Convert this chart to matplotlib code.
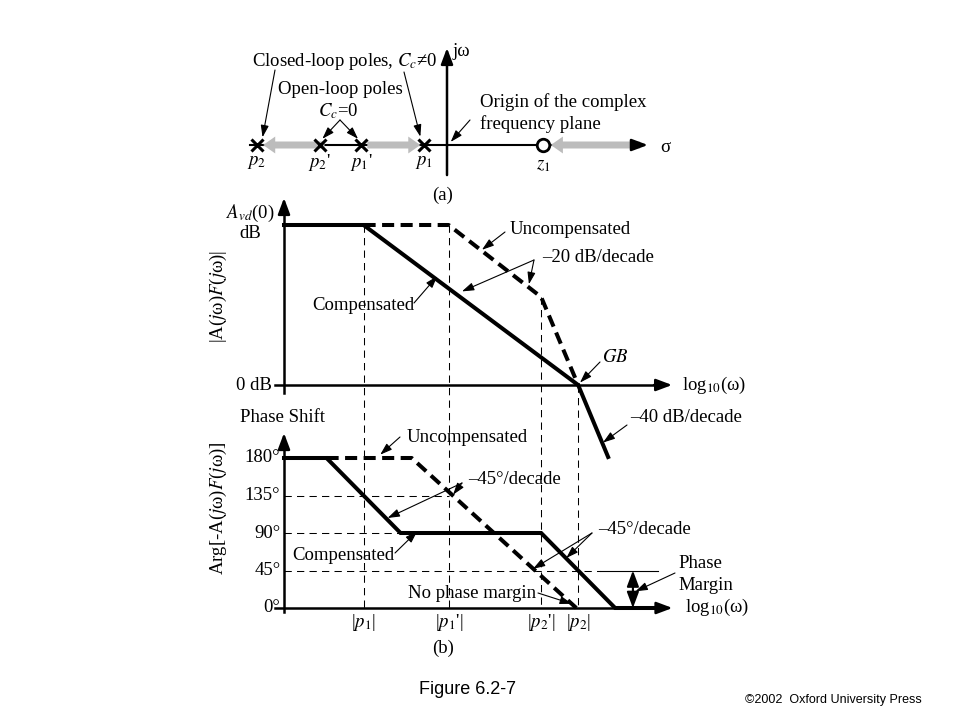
import numpy as np
import matplotlib
matplotlib.use("Agg")
import matplotlib.pyplot as plt
import matplotlib.transforms as mtransforms

plt.rcParams['font.family'] = ['Liberation Serif', 'DejaVu Serif']
plt.rcParams['mathtext.fontset'] = 'stix'
FS = 13.5

# (a) pole / zero locations on the sigma axis (arbitrary units)
pole_labels = ["$p_2$", "$p_2$'", "$p_1$'", "$p_1$"]
pole_sigma = [-6.13, -4.10, -2.77, -0.74]
zero_sigma = 3.10

# (b) breakpoints on the log10(w) axis (decades from the origin)
brk_labels = ["|$p_1$|", "|$p_1$'|", "|$p_2$'|", "|$p_2$|"]
brk_x = [2.15, 4.45, 6.95, 7.95]

# magnitude, dB (A_vd(0) = 100)
mag_comp_x = [0, 2.15, 7.95, 8.76]
mag_comp_y = [100, 100, 0, -45]
mag_unc_x = [2.15, 4.45, 6.95, 7.95]
mag_unc_y = [100, 100, 55, 0]

# phase shift, degrees
ph_comp_x = [0, 1.15, 3.15, 6.95, 8.95, 10.1]
ph_comp_y = [180, 180, 90, 90, 0, 0]
ph_unc_x = [1.15, 3.45, 7.9]
ph_unc_y = [180, 180, 0]
ph_ticks = [0, 45, 90, 135, 180]

W, H = 960, 720
fig = plt.figure(figsize=(9.6, 7.2), dpi=100)
fig.patch.set_facecolor('white')
PX = mtransforms.Affine2D().scale(1 / W, -1 / H).translate(0, 1) + fig.transFigure


def panel(left, top, right, bottom, x0, xu, y0, yu):
    ax = fig.add_axes([left / W, 1 - bottom / H, (right - left) / W, (bottom - top) / H])
    ax.set_xlim((left - x0) / xu, (right - x0) / xu)
    ax.set_ylim((y0 - bottom) / yu, (y0 - top) / yu)
    ax.axis('off')
    return ax


ax_a = panel(230, 30, 720, 210, 447, 31, 145, 31)
ax_m = panel(200, 190, 780, 470, 284, 37, 385, 1.6)
ax_p = panel(200, 405, 780, 640, 284, 37, 608, 150 / 180)

AX_ARROW = dict(arrowstyle='-|>,head_length=0.8,head_width=0.3', mutation_scale=12,
                lw=1.8, color='k', shrinkA=0, shrinkB=0)
PTR = dict(arrowstyle='-|>,head_length=0.6,head_width=0.2', mutation_scale=12,
           lw=0.8, color='k', shrinkA=0, shrinkB=0)
GRAY = dict(arrowstyle='simple,head_length=0.62,head_width=0.87,tail_width=0.36',
            mutation_scale=14, fc='#bcbcbc', ec='none', shrinkA=0, shrinkB=0)


def arrow(ax, start, end, props=AX_ARROW, start_px=False, z=3):
    ax.annotate('', xy=end, xytext=start, xycoords='data',
                textcoords=PX if start_px else 'data',
                arrowprops=props, annotation_clip=False, zorder=z)


def label(s, x, y, ha='left', va='center', **kw):
    fig.text(x, y, s, transform=PX, ha=ha, va=va, fontsize=kw.pop('fontsize', FS), **kw)


# ---------------- (a) complex plane ----------------
ax_a.plot([-6.35, 6.3], [0, 0], color='k', lw=1.5, zorder=1)
arrow(ax_a, (6.0, 0), (6.48, 0))
arrow(ax_a, (0, -0.97), (0, 3.13))
arrow(ax_a, (pole_sigma[1] + 0.15, 0), (pole_sigma[0] + 0.2, 0), GRAY, z=2)
arrow(ax_a, (pole_sigma[2] + 0.2, 0), (pole_sigma[3] - 0.12, 0), GRAY, z=2)
arrow(ax_a, (6.23, 0), (zero_sigma + 0.25, 0), GRAY, z=2)
ax_a.plot(pole_sigma, np.zeros(len(pole_sigma)), 'x', ms=9, mew=2.2, color='k', zorder=4)
ax_a.plot([zero_sigma], [0], 'o', ms=9, mfc='white', mec='k', mew=2, zorder=4)
for s, name in zip(pole_sigma, pole_labels):
    ax_a.text(s, -0.58, name, ha='center', va='center', fontsize=FS)
ax_a.text(zero_sigma, -0.65, "$z_1$", ha='center', va='center', fontsize=FS)

label("Closed-loop poles, $C_c$≠0", 252, 62)
label("Open-loop poles", 278, 89)
label("$C_c$=0", 338, 111, ha='center')
label("jω", 453, 52)
label("σ", 660, 148)
label("Origin of the complex", 480, 102)
label("frequency plane", 480, 124)
label("(a)", 443, 195, ha='center')
arrow(ax_a, (275, 70), (pole_sigma[0] + 0.18, 0.25), PTR, start_px=True)
arrow(ax_a, (404, 72), (pole_sigma[3] - 0.12, 0.27), PTR, start_px=True)
arrow(ax_a, (340, 120), (pole_sigma[1] + 0.08, 0.2), PTR, start_px=True)
arrow(ax_a, (340, 120), (pole_sigma[2] - 0.1, 0.2), PTR, start_px=True)
arrow(ax_a, (470, 120), (0.12, 0.1), PTR, start_px=True)

# ---------------- (b) magnitude ----------------
ax_m.plot([-0.25, 10.2], [0, 0], color='k', lw=1.8)
arrow(ax_m, (10.0, 0), (10.49, 0))
ax_m.plot([0, 0], [-5, 110], color='k', lw=1.8)
arrow(ax_m, (0, 110), (0, 116.9))
ax_m.plot(mag_comp_x, mag_comp_y, color='k', lw=2.9, solid_joinstyle='miter', zorder=4)
ax_m.plot(mag_unc_x, mag_unc_y, color='k', lw=2.9, ls=(0, (3, 1.6)), zorder=4)

inv = ax_m.transData.inverted()
for xb in brk_x:
    ytop = np.interp(xb, mag_unc_x, mag_unc_y)
    ybot = inv.transform(ax_p.transData.transform((xb, 0)))[1]
    ax_m.plot([xb, xb], [ytop, ybot], color='k', lw=0.75, ls=(0, (7, 5)), clip_on=False, zorder=1)

label("$A_{vd}$(0)", 250, 213, ha='center')
label("dB", 250, 233, ha='center')
label("0 dB", 272, 385, ha='right')
label("|A($j$ω)$F$($j$ω)|", 218, 296, ha='center', rotation=90)
label("Uncompensated", 510, 230)
label("–20 dB/decade", 542, 257)
label("Compensated", 312, 305)
label("$GB$", 602, 357)
label("log$_{10}$(ω)", 682, 385)
label("–40 dB/decade", 630, 418)
arrow(ax_m, (505, 232), (5.35, 84.5), PTR, start_px=True)
arrow(ax_m, (534, 260), (4.81, 58.5), PTR, start_px=True)
arrow(ax_m, (534, 260), (6.62, 63), PTR, start_px=True)
arrow(ax_m, (414, 303), (4.14, 68), PTR, start_px=True)
arrow(ax_m, (600, 362), (8.0, 1.5), PTR, start_px=True)
arrow(ax_m, (627, 425), (8.62, -36), PTR, start_px=True)

# ---------------- (b) phase ----------------
ax_p.plot([-0.25, 10.2], [0, 0], color='k', lw=1.8)
arrow(ax_p, (10.0, 0), (10.5, 0))
ax_p.plot([0, 0], [-5, 200], color='k', lw=1.8)
arrow(ax_p, (0, 200), (0, 210))
ax_p.plot([0, brk_x[1]], [135, 135], color='k', lw=0.75, ls=(0, (7, 5)))
ax_p.plot([0, ph_comp_x[2]], [90, 90], color='k', lw=0.75, ls=(0, (7, 5)))
ax_p.plot([0, 8.54], [45, 45], color='k', lw=0.75, ls=(0, (7, 5)))
ax_p.plot([8.54, 10.1], [45, 45], color='k', lw=0.8)
ax_p.plot(ph_comp_x, ph_comp_y, color='k', lw=2.9, solid_joinstyle='miter', zorder=4)
ax_p.plot(ph_unc_x, ph_unc_y, color='k', lw=2.9, ls=(0, (3, 1.6)), zorder=4)
arrow(ax_p, (9.43, 22), (9.43, 45), dict(AX_ARROW, lw=1.5))
arrow(ax_p, (9.43, 22), (9.43, 0), dict(AX_ARROW, lw=1.5))

for d in ph_ticks:
    ax_p.text(-0.1, d, f"{d}°", ha='right', va='center', fontsize=FS)
for xb, name in zip(brk_x, brk_labels):
    ax_p.text(xb, -17, name, ha='center', va='center', fontsize=FS)

label("Phase Shift", 240, 417)
label("Arg[-A($j$ω)$F$($j$ω)]", 218, 508, ha='center', rotation=90)
label("Uncompensated", 407, 437)
label("–45°/decade", 468, 480)
label("Compensated", 292, 555)
label("–45°/decade", 598, 530)
label("No phase margin", 408, 593)
label("Phase", 678, 563)
label("Margin", 678, 585)
label("log$_{10}$(ω)", 685, 607)
label("(b)", 443, 648, ha='center')
arrow(ax_p, (400, 437), (2.6, 184), PTR, start_px=True)
arrow(ax_p, (462, 483), (4.57, 136), PTR, start_px=True)
arrow(ax_p, (462, 483), (2.8, 108), PTR, start_px=True)
arrow(ax_p, (395, 553), (3.6, 92), PTR, start_px=True)
arrow(ax_p, (592, 533), (6.73, 47), PTR, start_px=True)
arrow(ax_p, (592, 533), (7.63, 60), PTR, start_px=True)
arrow(ax_p, (538, 593), (7.78, 5), PTR, start_px=True)
arrow(ax_p, (675, 573), (9.5, 20), PTR, start_px=True)

label("Figure 6.2-7", 419, 690, family='Liberation Sans', fontsize=13)
label("©2002  Oxford University Press", 745, 700, family='Liberation Sans', fontsize=9)

fig.savefig("out.png", dpi=100, facecolor='white')
